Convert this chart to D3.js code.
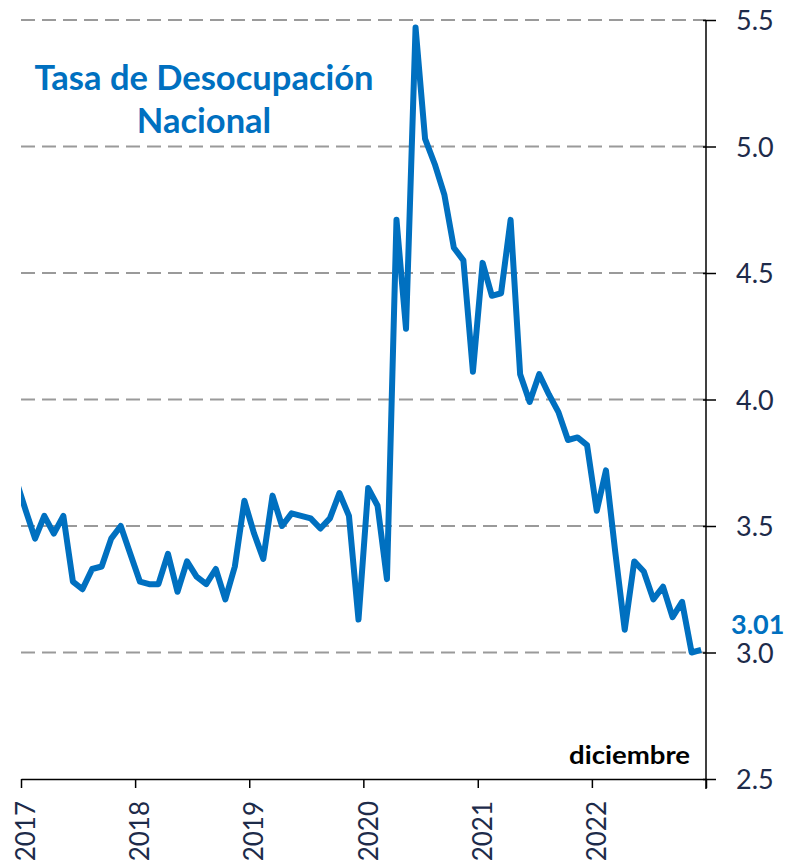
<!DOCTYPE html>
<html>
<head>
<meta charset="utf-8">
<script src="https://cdn.jsdelivr.net/npm/d3@7"></script>
<style>
  html, body { margin: 0; padding: 0; background: #fff; }
  svg { display: block; }
</style>
</head>
<body>
<svg id="chart" width="789" height="868"></svg>
<script>
// ---- data ----
const firstMonth = "2016-12";           // first observation (clipped at the left edge)
const rates = [
  3.68,                                                                   // 2016 Dec
  3.56, 3.45, 3.54, 3.47, 3.54, 3.28, 3.25, 3.33, 3.34, 3.45, 3.50, 3.39, // 2017
  3.28, 3.27, 3.27, 3.39, 3.24, 3.36, 3.30, 3.27, 3.33, 3.21, 3.34, 3.60, // 2018
  3.47, 3.37, 3.62, 3.50, 3.55, 3.54, 3.53, 3.49, 3.53, 3.63, 3.54, 3.13, // 2019
  3.65, 3.58, 3.29, 4.71, 4.28, 5.47, 5.03, 4.93, 4.81, 4.60, 4.55, 4.11, // 2020
  4.54, 4.41, 4.42, 4.71, 4.10, 3.99, 4.10, 4.02, 3.95, 3.84, 3.85, 3.82, // 2021
  3.56, 3.72, 3.40, 3.09, 3.36, 3.32, 3.21, 3.26, 3.14, 3.20, 3.00, 3.01  // 2022
];
const yearLabels = ["2017", "2018", "2019", "2020", "2021", "2022"];
const yTicks = [2.5, 3.0, 3.5, 4.0, 4.5, 5.0, 5.5];
const titleLines = ["Tasa de Desocupación", "Nacional"];
const lastLabel = "3.01";
const periodLabel = "diciembre";

// ---- layout ----
const svg = d3.select("#chart");
const pLeft = 21, pRight = 706, pTop = 20, pBottom = 779;
const blue = "#0070C0", navy = "#1d2b4a";

const parse = d3.timeParse("%Y-%m");
const start = parse(firstMonth);
const months = rates.map((v, i) => ({ date: d3.timeMonth.offset(start, i), value: v }));

const x = d3.scaleTime()
  .domain([new Date(2017, 0, 1), new Date(2023, 0, 1)])
  .range([pLeft, pRight]);
const y = d3.scaleLinear().domain([2.5, 5.5]).range([pBottom, pTop]);
const midX = d => (x(d) + x(d3.timeMonth.offset(d, 1))) / 2;

// gridlines
svg.append("g")
  .selectAll("line")
  .data(yTicks.filter(t => t > 2.5))
  .join("line")
  .attr("x1", pLeft).attr("x2", pRight)
  .attr("y1", d => y(d)).attr("y2", d => y(d))
  .attr("stroke", "#9a9a9a")
  .attr("stroke-width", 2)
  .attr("stroke-dasharray", "14,7");

// right y axis
const yAxis = d3.axisRight(y).tickValues(yTicks).tickFormat(d3.format(".1f"))
  .tickSizeInner(10).tickSizeOuter(0).tickPadding(20);
const gy = svg.append("g").attr("transform", `translate(${pRight},0)`).call(yAxis);
gy.select(".domain").attr("stroke", "#000").attr("stroke-width", 1.5)
  .attr("d", `M0,${pTop}V${pBottom + 10}`);
gy.selectAll(".tick line").attr("stroke", "#000").attr("stroke-width", 1.5).attr("x1", -3);
gy.selectAll(".tick text")
  .attr("fill", navy)
  .attr("font-family", "Lato, sans-serif")
  .attr("font-size", 27)
  .attr("dy", "0.36em");

// bottom x axis
const xAxis = d3.axisBottom(x).ticks(d3.timeYear.every(1)).tickFormat("")
  .tickSizeInner(9).tickSizeOuter(0);
const gx = svg.append("g").attr("transform", `translate(0,${pBottom})`).call(xAxis);
gx.select(".domain").attr("stroke", "#000").attr("stroke-width", 1.5);
gx.selectAll(".tick line").attr("stroke", "#000").attr("stroke-width", 1.5);

// year labels, rotated, centred on January
svg.append("g")
  .selectAll("text")
  .data(yearLabels)
  .join("text")
  .attr("transform", d => `translate(${midX(new Date(+d, 0, 1))},${pBottom + 22}) rotate(-90)`)
  .attr("text-anchor", "end")
  .attr("dy", "0.36em")
  .attr("fill", navy)
  .attr("font-family", "Lato, sans-serif")
  .attr("font-size", 26)
  .text(d => d);

// clip
svg.append("clipPath").attr("id", "plot")
  .append("rect").attr("x", pLeft).attr("y", 0).attr("width", pRight - pLeft).attr("height", pBottom);

// line
const line = d3.line().x(d => midX(d.date)).y(d => y(d.value));
svg.append("path")
  .datum(months)
  .attr("clip-path", "url(#plot)")
  .attr("d", line)
  .attr("fill", "none")
  .attr("stroke", blue)
  .attr("stroke-width", 6)
  .attr("stroke-linejoin", "round")
  .attr("stroke-linecap", "butt");

// title
svg.append("text")
  .attr("x", 204).attr("text-anchor", "middle")
  .attr("fill", blue)
  .attr("font-family", "Lato, sans-serif")
  .attr("font-weight", "bold")
  .attr("font-size", 34.5)
  .selectAll("tspan")
  .data(titleLines)
  .join("tspan")
  .attr("x", 204)
  .attr("y", (d, i) => 90 + i * 43)
  .text(d => d);

// last value label
const last = months[months.length - 1];
svg.append("text")
  .attr("x", 731).attr("y", y(last.value) - 26)
  .attr("dy", "0.36em")
  .attr("fill", blue)
  .attr("font-family", "Lato, sans-serif")
  .attr("font-weight", "bold")
  .attr("font-size", 27)
  .text(lastLabel);

// period label
svg.append("text")
  .attr("x", 690).attr("y", 764)
  .attr("text-anchor", "end")
  .attr("fill", "#000")
  .attr("font-family", "Lato, sans-serif")
  .attr("font-weight", "bold")
  .attr("font-size", 25)
  .attr("textLength", 121)
  .attr("lengthAdjust", "spacingAndGlyphs")
  .text(periodLabel);
</script>
</body>
</html>
